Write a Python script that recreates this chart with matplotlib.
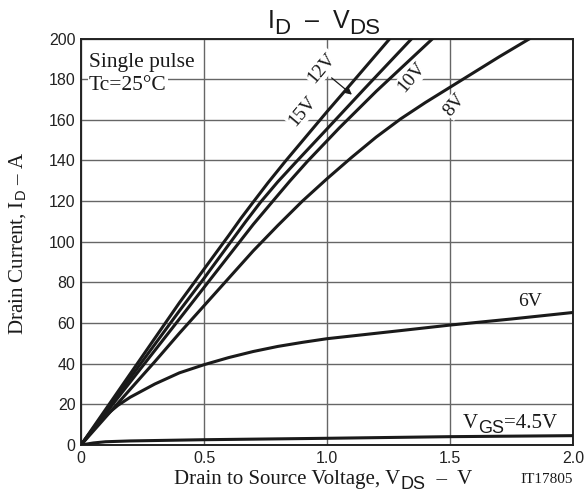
import matplotlib
matplotlib.use("Agg")
import matplotlib.pyplot as plt
from matplotlib.transforms import IdentityTransform

# --- data (V_DS in volts, I_D in amps) ---
vds_15 = [0, 0.1, 0.2, 0.3, 0.4, 0.5, 0.6, 0.65, 0.7, 0.76, 0.83, 1.0, 1.1, 1.256]
id_15 = [0, 17.5, 35, 52.5, 70, 86.5, 103, 111.5, 119.5, 129, 139.5, 164, 178, 200]

vds_12 = [0, 0.1, 0.2, 0.3, 0.4, 0.5, 0.6, 0.67, 0.73, 0.8, 0.88, 1.0, 1.15, 1.345]
id_12 = [0, 16.5, 33, 49.5, 66, 82, 98.5, 110, 119.5, 129.5, 140, 155.5, 175, 200]

vds_10 = [0, 0.1, 0.2, 0.3, 0.4, 0.5, 0.6, 0.7, 0.78, 0.85, 0.92, 1.05, 1.2, 1.43]
id_10 = [0, 15.5, 31, 46.5, 62, 77.5, 93, 108.5, 120, 130, 139.5, 156, 174, 200]

vds_8 = [0, 0.1, 0.2, 0.3, 0.4, 0.5, 0.6, 0.7, 0.8, 0.9, 1.0, 1.1, 1.2, 1.3, 1.4, 1.5, 1.6, 1.7, 1.825]
id_8 = [0, 13.7, 27.4, 41, 55, 68.5, 82, 95.5, 108, 120, 131, 141.5, 151.5, 160.5, 168.5, 176, 183.5, 191, 200]

vds_6 = [0, 0.05, 0.1, 0.15, 0.2, 0.3, 0.4, 0.5, 0.6, 0.7, 0.8, 0.9, 1.0, 1.3, 1.5, 1.75, 2.0]
id_6 = [0, 8, 14.5, 19.5, 23.5, 30, 35.5, 39.5, 43, 46, 48.5, 50.5, 52.3, 56.3, 59, 62, 65.2]

vds_45 = [0, 0.05, 0.1, 0.2, 0.5, 1.0, 1.5, 2.0]
id_45 = [0, 1.0, 1.6, 2.0, 2.6, 3.3, 4.1, 4.6]

xticks = [0, 0.5, 1.0, 1.5, 2.0]
xlabels = ["0", "0.5", "1.0", "1.5", "2.0"]
yticks = list(range(0, 201, 20))

SERIF = "Liberation Serif"
SANS = "Liberation Sans"
INK = "#1a1a1a"
W, H = 585, 500
plt.rcParams["mathtext.fontset"] = "custom"
plt.rcParams["mathtext.rm"] = SERIF
plt.rcParams["mathtext.sf"] = SANS

fig = plt.figure(figsize=(W / 100, H / 100), dpi=100)
ax = fig.add_axes([81 / W, 55 / H, 492 / W, 406.5 / H])

for x, y in [(vds_15, id_15), (vds_12, id_12), (vds_10, id_10),
             (vds_8, id_8), (vds_6, id_6), (vds_45, id_45)]:
    ax.plot(x, y, color=INK, lw=2.2, solid_capstyle="round", solid_joinstyle="round", zorder=3)

ax.set_xlim(0, 2.0)
ax.set_ylim(0, 200)
ax.set_xticks(xticks)
ax.set_xticklabels(xlabels, fontfamily=SANS, fontsize=11.5)
ax.set_yticks(yticks)
ax.set_yticklabels([str(v) for v in yticks], fontfamily=SANS, fontsize=11.5)
ax.tick_params(length=0, pad=4, colors="#222222")
ax.grid(True, color="#666666", lw=1.0)
ax.set_axisbelow(True)
for s in ax.spines.values():
    s.set_color("#222222"); s.set_linewidth(1.4)


def runs(x, y, parts, ha="center"):
    """text made of pieces (text, family, size, drop) laid side by side;
    x, y in pixels from the top-left, y = baseline."""
    r = fig.canvas.get_renderer()
    placed, cx = [], 0.0
    for s, fam, size, drop in parts:
        t = fig.text(0, 0, s, fontfamily=fam, fontsize=size, color=INK,
                     ha="left", va="baseline", transform=IdentityTransform(), zorder=5)
        placed.append((t, cx, drop))
        cx += t.get_window_extent(r).width
    x0 = {"center": x - cx / 2, "right": x - cx, "left": x}[ha]
    for t, off, drop in placed:
        t.set_position((x0 + off, H - y - drop))


box = dict(facecolor="white", edgecolor="none", pad=1.0)
tx = dict(fontfamily=SERIF, color=INK, zorder=4)
ax.text(0.016, 0.965, "Single pulse", transform=ax.transAxes, fontsize=15.5,
        va="top", ha="left", bbox=box, **tx)
ax.text(0.016, 0.908, "Tc=25°C", transform=ax.transAxes, fontsize=15.5,
        va="top", ha="left", bbox=box, **tx)

ax.text(0.902, 164, "15V", rotation=50, fontsize=14, ha="center", va="center", bbox=box, **tx)
ax.text(0.98, 185.5, "12V", rotation=50, fontsize=14, ha="center", va="center", bbox=box, **tx)
ax.annotate("", xy=(1.11, 171.5), xytext=(1.01, 181.5),
            arrowprops=dict(arrowstyle="-|>", color=INK, lw=0.9, mutation_scale=9), zorder=4)
ax.text(1.345, 181, "10V", rotation=50, fontsize=14, ha="center", va="center", bbox=box, **tx)
ax.text(1.52, 167.5, "8V", rotation=50, fontsize=14, ha="center", va="center", bbox=box, **tx)
ax.text(1.825, 70.5, "6V", fontsize=14, ha="center", va="center", **tx)

runs(557, 428, [("V", SERIF, 15, 0), ("GS", SANS, 13, 5), ("=4.5V", SERIF, 15, 0)], ha="right")
runs(324, 28, [("I", SANS, 18, 0), ("D", SANS, 16, 6), ("  –  ", SANS, 18, 0),
               ("V", SANS, 18, 0), ("DS", SANS, 16, 6)])
runs(323, 484, [("Drain to Source Voltage, V", SERIF, 15, 0), ("DS", SANS, 13, 5),
                ("  –  V", SERIF, 15, 0)])
runs(547, 483, [("IT17805", SERIF, 11, 0)])
fig.text(18 / W, 1 - 243 / H, "Drain Current, I$_{\\mathsf{D}}$ – A", fontfamily=SERIF,
         fontsize=15, rotation=90, ha="center", va="center", color=INK)

fig.savefig("out.png", dpi=100, facecolor="white")
